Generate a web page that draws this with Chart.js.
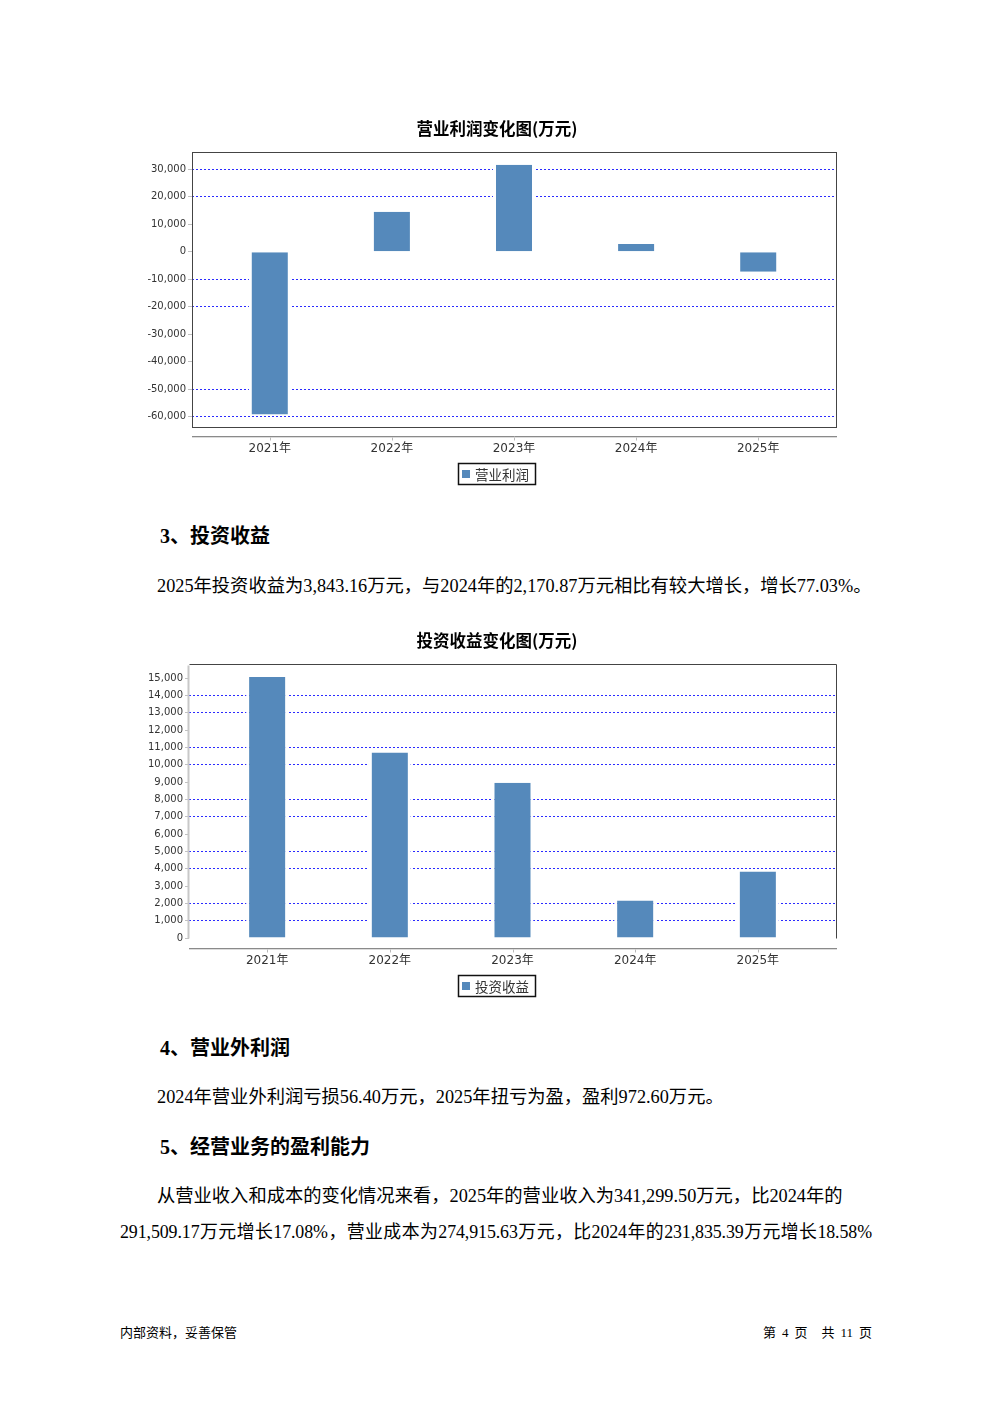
<!DOCTYPE html>
<html>
<head>
<meta charset="utf-8">
<script src="https://cdn.jsdelivr.net/npm/chart.js@4.4.1/dist/chart.umd.min.js"></script>
<style>
  html,body{margin:0;padding:0;background:#fff;}
  body{width:992px;height:1403px;position:relative;overflow:hidden;
       font-family:"Liberation Serif","Noto Sans CJK SC",serif;color:#000;}
  .t{position:absolute;white-space:nowrap;line-height:1;}
  .h{font-size:20px;font-weight:bold;}
  .p{font-size:18.3px;}
  .f{font-size:13px;font-family:"Liberation Serif","Noto Sans CJK SC",sans-serif;}
  .f span{display:inline-block;}
  canvas{position:absolute;}
</style>
</head>
<body>
<canvas id="c1" width="710" height="385" style="left:140px;top:110px"></canvas>

<div class="t h" style="left:160px;top:526px">3、投资收益</div>
<div class="t p" style="left:157px;top:577px">2025年投资收益为3,843.16万元，与2024年的2,170.87万元相比有较大增长，增长77.03%。</div>

<canvas id="c2" width="715" height="385" style="left:135px;top:620px"></canvas>

<div class="t h" style="left:160px;top:1038px">4、营业外利润</div>
<div class="t p" style="left:157px;top:1088px">2024年营业外利润亏损56.40万元，2025年扭亏为盈，盈利972.60万元。</div>
<div class="t h" style="left:160px;top:1137px">5、经营业务的盈利能力</div>
<div class="t p" style="left:157px;top:1187px">从营业收入和成本的变化情况来看，2025年的营业收入为341,299.50万元，比2024年的</div>
<div class="t p" style="left:120px;top:1224px;width:752px;font-size:17.9px;letter-spacing:-0.1px;text-align:justify;text-align-last:justify;">291,509.17万元增长17.08%，营业成本为274,915.63万元，比2024年的231,835.39万元增长18.58%</div>

<div class="t f" style="left:120px;top:1326px">内部资料，妥善保管</div>
<div class="t f" style="right:120px;top:1326px"><span>第</span><span style="margin-left:6px">4</span><span style="margin-left:6px">页</span><span style="margin-left:14px">共</span><span style="margin-left:6px">11</span><span style="margin-left:6px">页</span></div>

<script>
// ---------- data ----------
const categories = ['2021年', '2022年', '2023年', '2024年', '2025年'];
const operatingProfit = [-59170, 14470, 31600, 2800, -7290];
const investmentIncome = [15060, 10710, 8960, 2170.87, 3843.16];

const profitTicks = [30000, 20000, 10000, 0, -10000, -20000, -30000, -40000, -50000, -60000];
const profitGridAt = [30000, 20000, -10000, -20000, -50000, -60000];
const incomeTicks = [15000, 14000, 13000, 12000, 11000, 10000, 9000, 8000, 7000, 6000, 5000, 4000, 3000, 2000, 1000, 0];
const incomeGridAt = [14000, 13000, 11000, 10000, 8000, 7000, 5000, 4000, 2000, 1000];

const profitTitle = '营业利润变化图(万元)';
const profitSeries = '营业利润';
const incomeTitle = '投资收益变化图(万元)';
const incomeSeries = '投资收益';

// ---------- styling ----------
const BAR = '#5589bb';
const TICK_FONT = '"DejaVu Sans","Noto Sans CJK SC",sans-serif';

const framePlugin = {
  id: 'frame',
  afterDatasetsDraw(chart, args, o) {
    const ctx = chart.ctx, a = chart.chartArea;
    ctx.save();
    // title
    ctx.font = 'bold 16.5px "Noto Sans CJK SC",sans-serif';
    ctx.fillStyle = '#000';
    ctx.textAlign = 'center';
    ctx.textBaseline = 'middle';
    ctx.fillText(o.title, o.titleX, o.titleY);

    // plot frame
    const L = Math.round(a.left) + 0.5, R = Math.round(a.right) + 0.5;
    const T = Math.round(a.top) + 0.5, B = Math.round(a.bottom) + 0.5;
    ctx.lineWidth = 1;
    ctx.setLineDash([]);
    if (o.fullBox) {
      ctx.strokeStyle = '#444';
      ctx.strokeRect(L, T, R - L, B - T);
    } else {
      ctx.strokeStyle = '#444';
      ctx.beginPath();
      ctx.moveTo(L, T); ctx.lineTo(R, T); ctx.lineTo(R, B);
      ctx.stroke();
      ctx.strokeStyle = '#c8c8c8';
      ctx.lineWidth = 2;
      ctx.beginPath();
      ctx.moveTo(L - 1, T + 1); ctx.lineTo(L - 1, B);
      ctx.stroke();
      ctx.lineWidth = 1;
    }

    // category axis line (detached below the plot)
    const ya = Math.round(a.bottom) + o.axisGap + 0.5;
    ctx.strokeStyle = '#8a8a8a';
    ctx.beginPath(); ctx.moveTo(a.left, ya); ctx.lineTo(a.right + 1, ya); ctx.stroke();
    ctx.strokeStyle = '#dcdcdc';
    ctx.beginPath(); ctx.moveTo(a.left, ya + 1); ctx.lineTo(a.right + 1, ya + 1); ctx.stroke();
    const xs = chart.scales.x;
    ctx.strokeStyle = '#b8b8b8';
    categories.forEach((c, i) => {
      const px = Math.round(xs.getPixelForValue(i)) + 0.5;
      ctx.beginPath(); ctx.moveTo(px, ya + 1); ctx.lineTo(px, ya + 4); ctx.stroke();
    });

    // legend
    ctx.font = '13.5px "Noto Sans CJK SC",sans-serif';
    const tw = ctx.measureText(o.series).width;
    const bw = Math.round(4 + 8 + 5 + tw + 6), bh = 21;
    const bx = Math.round(o.legendCX - bw / 2) + 0.5, by = o.legendTop + 0.5;
    ctx.strokeStyle = '#111';
    ctx.lineWidth = 1.5;
    ctx.strokeRect(bx, by, bw, bh);
    ctx.fillStyle = BAR;
    ctx.fillRect(bx + 3.5, by + bh / 2 - 4, 8, 8);
    ctx.fillStyle = '#333';
    ctx.textAlign = 'left';
    ctx.textBaseline = 'middle';
    ctx.fillText(o.series, bx + 3.5 + 8 + 5, by + bh / 2 + 0.5);
    ctx.restore();
  }
};

function buildChart(id, values, ticks, gridAt, spec) {
  const points = values.map((v, i) => ({ x: i, y: v }));
  return new Chart(document.getElementById(id), {
    type: 'bar',
    data: {
      datasets: [{
        label: spec.series,
        data: points,
        backgroundColor: BAR,
        borderColor: '#ffffff',
        borderWidth: { left: 3, right: 3, top: 0, bottom: 0 },
        borderSkipped: false,
        barThickness: 42,
        inflateAmount: 0
      }]
    },
    options: {
      responsive: false,
      animation: false,
      devicePixelRatio: 1,
      layout: { padding: { top: spec.padTop, right: spec.padRight, bottom: spec.padBottom, left: 0 } },
      plugins: {
        legend: { display: false },
        title: { display: false },
        tooltip: { enabled: false },
        frame: spec
      },
      scales: {
        x: {
          type: 'linear',
          min: -0.637, max: 4.637,
          offset: false,
          afterBuildTicks: s => { s.ticks = categories.map((c, i) => ({ value: i })); },
          ticks: {
            callback: v => categories[v] ?? '',
            autoSkip: false, maxRotation: 0, minRotation: 0,
            padding: spec.xLabelPad,
            color: '#333',
            font: { family: TICK_FONT, size: 12 }
          },
          grid: { display: false, drawTicks: false, offset: false },
          border: { display: false },
          afterFit: s => { s.height = 33; }
        },
        y: {
          min: spec.yMin, max: spec.yMax,
          afterBuildTicks: s => { s.ticks = ticks.map(v => ({ value: v })); },
          ticks: {
            callback: v => Number(v).toLocaleString('en-US'),
            padding: 2,
            color: '#333',
            font: { family: TICK_FONT, size: 10 }
          },
          grid: {
            color: c => (c.tick && gridAt.includes(c.tick.value)) ? '#2b2bff' : 'rgba(0,0,0,0)',
            lineWidth: 1,
            drawTicks: true,
            tickLength: 4,
            tickColor: '#c0c0c0',
            tickBorderDash: []
          },
          border: { display: false, dash: [2, 2] },
          afterFit: s => { s.width = spec.yWidth; }
        }
      }
    },
    plugins: [framePlugin]
  });
}

buildChart('c1', operatingProfit, profitTicks, profitGridAt, {
  title: profitTitle, series: profitSeries,
  titleX: 357, titleY: 19,
  padTop: 42, padRight: 14, padBottom: 35, yWidth: 52,
  yMin: -63700, yMax: 36200,
  xLabelPad: 15, axisGap: 9,
  legendCX: 356, legendTop: 353,
  fullBox: true
});

buildChart('c2', investmentIncome, incomeTicks, incomeGridAt, {
  title: incomeTitle, series: incomeSeries,
  titleX: 362, titleY: 21,
  padTop: 44, padRight: 14, padBottom: 34, yWidth: 54,
  yMin: 0, yMax: 15810,
  xLabelPad: 16, axisGap: 10,
  legendCX: 361, legendTop: 355,
  fullBox: false
});
</script>
</body>
</html>
